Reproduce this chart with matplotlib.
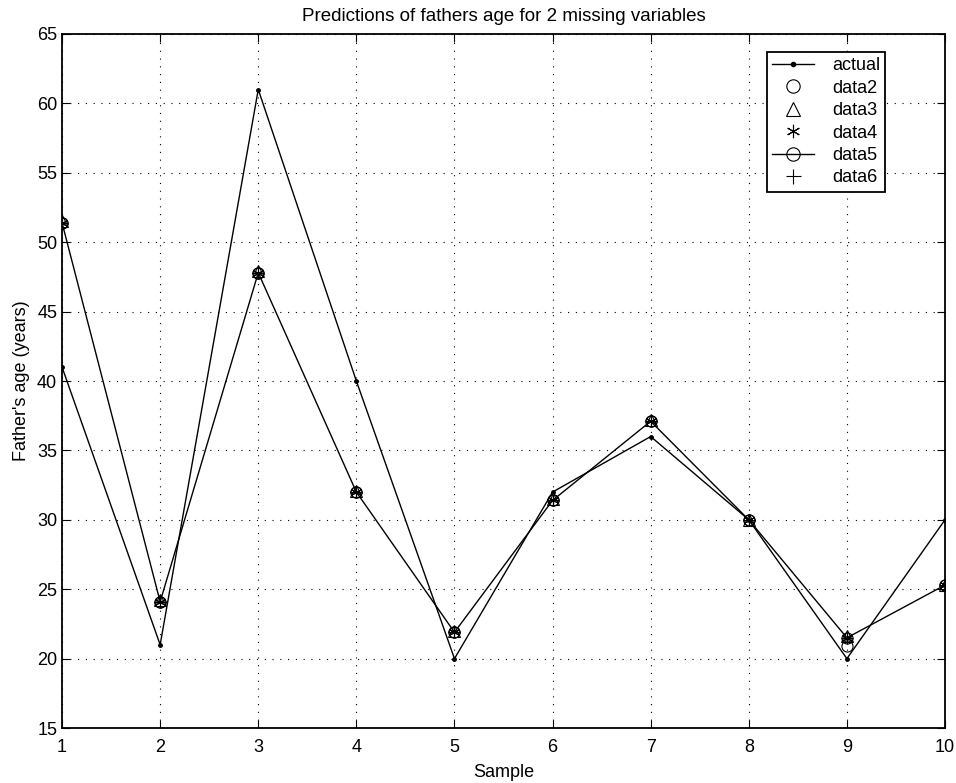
import numpy as np
import matplotlib.pyplot as plt

plt.rcParams['font.family'] = ['Liberation Sans', 'DejaVu Sans']

samples = np.arange(1, 11)
actual = [41, 21, 61, 40, 20, 32, 36, 30, 20, 30]
data2 = [51.4, 24.1, 47.8, 32.0, 21.9, 31.4, 37.1, 30.0, 20.9, 25.3]
data3 = [51.5, 24.2, 47.9, 32.1, 22.0, 31.5, 37.2, 30.0, 21.6, 25.3]
data4 = [51.4, 24.1, 47.8, 32.0, 21.9, 31.4, 37.1, 30.0, 21.5, 25.3]
data5 = [51.4, 24.1, 47.8, 32.0, 21.9, 31.4, 37.1, 30.0, 21.5, 25.3]
data6 = [51.4, 24.1, 47.8, 32.0, 21.9, 31.4, 37.1, 30.0, 21.5, 25.3]

fig = plt.figure(figsize=(9.56, 7.83), dpi=100)
ax = fig.add_axes([0.0649, 0.0702, 0.9236, 0.8864])

ax.plot(samples, actual, color='black', lw=1, marker='.', ms=5, label='actual')
ax.plot(samples, data2, ls='none', color='black', marker='o', mfc='none', ms=8, mew=0.8, label='data2')
ax.plot(samples, data3, ls='none', color='black', marker='^', mfc='none', ms=8, mew=0.8, label='data3')
ax.plot(samples, data4, ls='none', color='black', marker=(6, 2, 0), ms=8, mew=0.8, label='data4')
ax.plot(samples, data5, color='black', lw=1, marker='o', mfc='none', ms=8, mew=0.8, label='data5')
ax.plot(samples, data6, ls='none', color='black', marker='+', ms=9, mew=0.8, label='data6')

ax.set_xlim(1, 10)
ax.set_ylim(15, 65)
ax.set_xticks(samples)
ax.set_yticks(np.arange(15, 66, 5))
ax.grid(True, color='black', ls=(0, (1, 6)), lw=0.8)
ax.tick_params(direction='in', top=True, right=True, labelsize=13, length=6)
ax.tick_params(axis='x', pad=8)
for s in ax.spines.values():
    s.set_linewidth(1.3)

ax.set_xlabel('Sample', fontsize=13, labelpad=6)
ax.set_ylabel("Father's age (years)", fontsize=13, labelpad=5)
ax.set_title('Predictions of fathers age for 2 missing variables', fontsize=13.5, pad=9)

leg = ax.legend(loc='upper right', bbox_to_anchor=(0.9325, 0.9741), fontsize=13,
                frameon=True, fancybox=False, edgecolor='black', framealpha=1,
                handlelength=2.3, borderpad=0.3, labelspacing=0.3, handletextpad=1.0,
                borderaxespad=0, markerscale=1.2)
leg.get_frame().set_linewidth(1.3)

fig.savefig('out.png', dpi=100)
